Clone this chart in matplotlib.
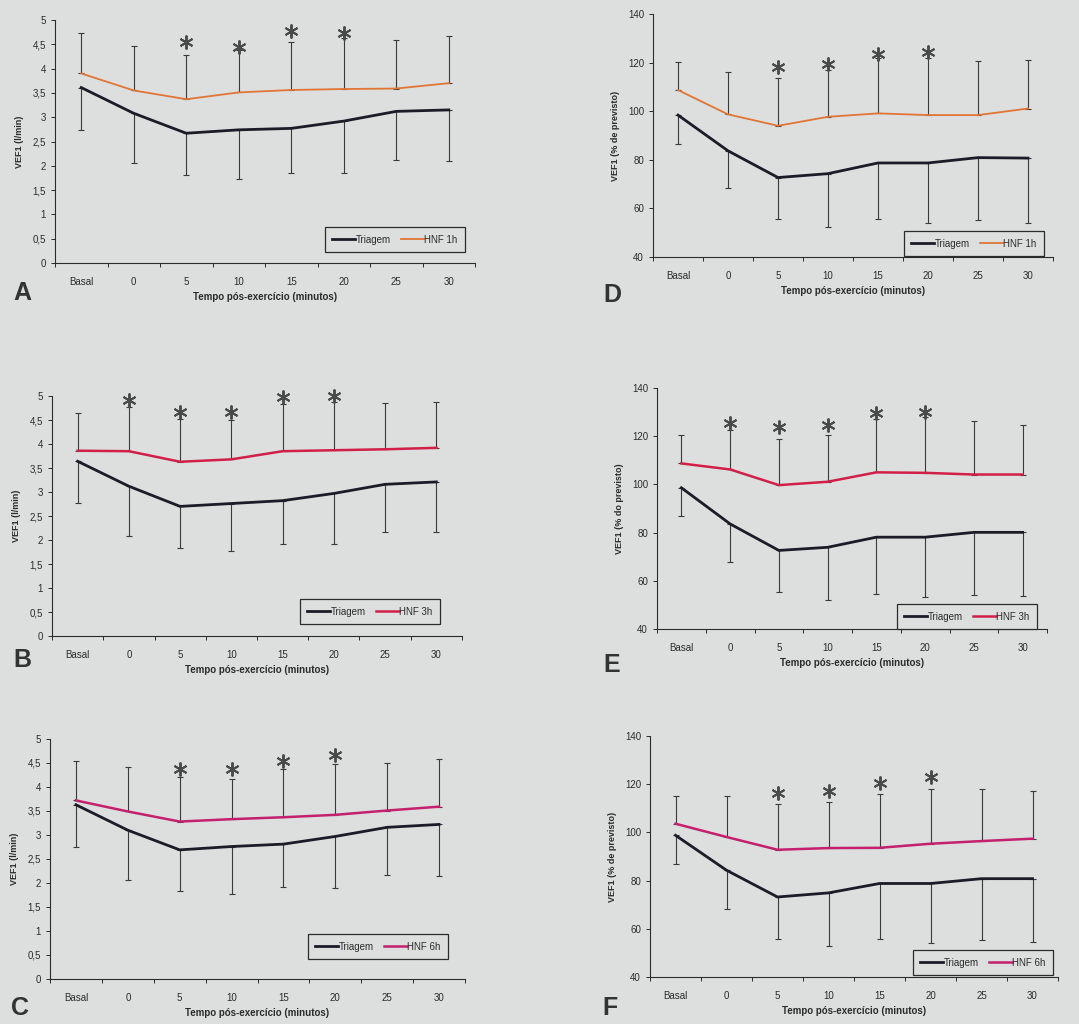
"""
VEF1 pós-exercício — Triagem vs HNF (painéis A-F)
Saves out.png
"""

import matplotlib
matplotlib.use("Agg")
import matplotlib.pyplot as plt
from matplotlib.ticker import FixedLocator, FuncFormatter


# =======================
# DATA
# =======================
categories = ["Basal", "0", "5", "10", "15", "20", "25", "30"]

# l/min panels (A, B, C)
a_triagem = [3.61, 3.08, 2.67, 2.74, 2.77, 2.92, 3.12, 3.15]
a_triagem_low = [2.74, 2.05, 1.82, 1.73, 1.86, 1.86, 2.12, 2.09]
a_hnf = [3.90, 3.55, 3.37, 3.51, 3.56, 3.58, 3.59, 3.70]
a_hnf_high = [4.73, 4.47, 4.29, 4.38, 4.54, 4.62, 4.59, 4.68]
a_stars = [2, 3, 4, 5]
a_star_y = [4.55, 4.45, 4.78, 4.74]

b_triagem = [3.64, 3.12, 2.70, 2.76, 2.82, 2.97, 3.16, 3.21]
b_triagem_low = [2.77, 2.08, 1.84, 1.78, 1.91, 1.91, 2.17, 2.16]
b_hnf = [3.86, 3.85, 3.63, 3.68, 3.85, 3.87, 3.89, 3.92]
b_hnf_high = [4.65, 4.77, 4.53, 4.51, 4.83, 4.88, 4.86, 4.88]
b_stars = [1, 2, 3, 4, 5]
b_star_y = [4.91, 4.67, 4.67, 4.97, 4.99]

c_triagem = [3.63, 3.10, 2.69, 2.76, 2.81, 2.97, 3.16, 3.22]
c_triagem_low = [2.74, 2.06, 1.84, 1.77, 1.91, 1.90, 2.17, 2.15]
c_hnf = [3.72, 3.49, 3.28, 3.33, 3.37, 3.42, 3.51, 3.59]
c_hnf_high = [4.55, 4.41, 4.20, 4.16, 4.37, 4.47, 4.51, 4.58]
c_stars = [2, 3, 4, 5]
c_star_y = [4.38, 4.37, 4.54, 4.67]

# % do previsto panels (D, E, F)
d_triagem = [98.4, 83.7, 72.7, 74.3, 78.7, 78.7, 80.9, 80.7]
d_triagem_low = [86.7, 68.2, 55.8, 52.4, 55.7, 54.0, 55.4, 54.1]
d_hnf = [108.7, 98.7, 94.0, 97.7, 99.1, 98.4, 98.4, 101.1]
d_hnf_high = [120.4, 116.2, 113.8, 116.9, 121.7, 121.7, 120.6, 120.9]
d_stars = [2, 3, 4, 5]
d_star_y = [118.3, 119.3, 123.4, 124.2]

e_triagem = [98.6, 83.6, 72.6, 73.9, 78.1, 78.1, 80.1, 80.1]
e_triagem_low = [86.9, 68.0, 55.2, 51.9, 54.6, 53.2, 54.2, 53.5]
e_hnf = [108.7, 106.2, 99.7, 101.1, 105.0, 104.8, 104.1, 104.1]
e_hnf_high = [120.4, 122.5, 119.0, 120.4, 127.3, 128.0, 126.2, 124.6]
e_stars = [1, 2, 3, 4, 5]
e_star_y = [125.5, 123.8, 124.5, 129.8, 130.0]

f_triagem = [98.8, 84.3, 73.2, 74.9, 78.8, 78.8, 80.8, 80.8]
f_triagem_low = [87.0, 68.4, 55.9, 52.8, 55.6, 54.2, 55.5, 54.5]
f_hnf = [103.6, 98.1, 92.8, 93.5, 93.6, 95.3, 96.4, 97.4]
f_hnf_high = [115.1, 115.1, 111.9, 112.6, 115.8, 118.1, 118.1, 117.0]
f_stars = [2, 3, 4, 5]
f_star_y = [116.5, 117.0, 120.5, 123.0]


# =======================
# CONFIG
# =======================
W, H = 1079, 1024
BG = "#dcdfde"
INK = "#2b2b2b"
TRIAGEM_COLOR = "#1c1c28"
ERR_COLOR = "#3a3a3a"
STAR_COLOR = "#4a4a4a"

plt.rcParams["font.family"] = ["Liberation Sans", "DejaVu Sans"]


# =======================
# HELPERS
# =======================
def fig_rect(left, top, right, bottom):
    # pixel box -> figure fraction
    return [left / W, 1 - bottom / H, (right - left) / W, (bottom - top) / H]


def fmt_lmin(v, _pos):
    return f"{v:g}".replace(".", ",")


def fmt_pct(v, _pos):
    return f"{v:.0f}"


def draw_panel(fig, box, legend_corner, letter, ylabel, hnf_label, hnf_color,
               triagem, triagem_low, hnf, hnf_high, stars, star_y,
               ylim, yticks, ytick_fmt, hnf_lw):
    ax = fig.add_axes(fig_rect(*box))
    ax.set_facecolor("none")
    x = list(range(len(categories)))

    ax.errorbar(x, hnf, yerr=[[0] * len(x), [h - v for h, v in zip(hnf_high, hnf)]],
                fmt="none", ecolor=ERR_COLOR, elinewidth=0.8, capsize=2.2, capthick=0.8)
    ax.errorbar(x, triagem, yerr=[[v - l for v, l in zip(triagem, triagem_low)], [0] * len(x)],
                fmt="none", ecolor=ERR_COLOR, elinewidth=0.8, capsize=2.2, capthick=0.8)
    ax.plot(x, triagem, color=TRIAGEM_COLOR, lw=2.0, label="Triagem", zorder=3)
    ax.plot(x, hnf, color=hnf_color, lw=hnf_lw, label=hnf_label, zorder=3)

    # significance asterisks
    ax.plot(stars, star_y, linestyle="none", marker=(6, 2, 0), markersize=10,
            markeredgewidth=1.4, color=STAR_COLOR, zorder=4, clip_on=False)

    ax.set_xlim(-0.5, len(categories) - 0.5)
    ax.set_ylim(*ylim)
    ax.set_xticks(x)
    ax.set_xticklabels(categories)
    ax.xaxis.set_minor_locator(FixedLocator([i + 0.5 for i in range(-1, len(categories))]))
    ax.tick_params(axis="x", which="major", length=0, pad=10, labelsize=7, labelcolor=INK)
    ax.tick_params(axis="x", which="minor", length=3, width=0.7, color=INK)
    ax.set_yticks(yticks)
    ax.yaxis.set_major_formatter(FuncFormatter(ytick_fmt))
    ax.tick_params(axis="y", length=3, width=0.7, labelsize=7, labelcolor=INK, color=INK)
    for s in ["top", "right"]:
        ax.spines[s].set_visible(False)
    for s in ["left", "bottom"]:
        ax.spines[s].set_color(INK)
        ax.spines[s].set_linewidth(0.8)

    ax.set_xlabel("Tempo pós-exercício (minutos)", fontsize=7, fontweight="bold",
                  color=INK, labelpad=4)
    ax.set_ylabel(ylabel, fontsize=6.5, fontweight="bold", color=INK, labelpad=6)

    leg = ax.legend(loc="lower right", bbox_to_anchor=(legend_corner[0] / W, 1 - legend_corner[1] / H),
                    bbox_transform=fig.transFigure, ncol=2, fontsize=7,
                    frameon=True, fancybox=False, handlelength=2.4,
                    handletextpad=0.05, columnspacing=1.0, borderpad=0.75,
                    borderaxespad=0)
    leg.get_frame().set_edgecolor(INK)
    leg.get_frame().set_linewidth(0.9)
    leg.get_frame().set_facecolor(BG)
    leg.get_frame().set_alpha(1)
    for t_ in leg.get_texts():
        t_.set_color(INK)

    fig.text(letter[0] / W, 1 - letter[1] / H, letter[2],
             fontsize=18, fontweight="bold", color="#333333", ha="center", va="center")
    return ax


# =======================
# MAIN
# =======================
def main() -> None:
    fig = plt.figure(figsize=(W / 100, H / 100), dpi=100, facecolor=BG)

    lmin_ticks = [i * 0.5 for i in range(11)]
    pct_ticks = [40, 60, 80, 100, 120, 140]

    draw_panel(fig, (55, 20, 475, 263), (465, 252), (22, 293, "A"),
               "VEF1 (l/min)", "HNF 1h", "#e07535",
               a_triagem, a_triagem_low, a_hnf, a_hnf_high, a_stars, a_star_y,
               (0, 5), lmin_ticks, fmt_lmin, 1.3)
    draw_panel(fig, (52, 396, 462, 636), (440, 624), (22, 660, "B"),
               "VEF1 (l/min)", "HNF 3h", "#d21f48",
               b_triagem, b_triagem_low, b_hnf, b_hnf_high, b_stars, b_star_y,
               (0, 5), lmin_ticks, fmt_lmin, 1.8)
    draw_panel(fig, (50, 739, 465, 979), (448, 959), (20, 1008, "C"),
               "VEF1 (l/min)", "HNF 6h", "#c4206e",
               c_triagem, c_triagem_low, c_hnf, c_hnf_high, c_stars, c_star_y,
               (0, 5), lmin_ticks, fmt_lmin, 1.8)
    draw_panel(fig, (653, 14, 1053, 257), (1044, 256), (612, 295, "D"),
               "VEF1 (% de previsto)", "HNF 1h", "#e07535",
               d_triagem, d_triagem_low, d_hnf, d_hnf_high, d_stars, d_star_y,
               (40, 140), pct_ticks, fmt_pct, 1.3)
    draw_panel(fig, (657, 388, 1047, 629), (1037, 629), (612, 665, "E"),
               "VEF1 (% do previsto)", "HNF 3h", "#d21f48",
               e_triagem, e_triagem_low, e_hnf, e_hnf_high, e_stars, e_star_y,
               (40, 140), pct_ticks, fmt_pct, 1.8)
    draw_panel(fig, (650, 736, 1058, 977), (1053, 975), (610, 1008, "F"),
               "VEF1 (% de previsto)", "HNF 6h", "#c4206e",
               f_triagem, f_triagem_low, f_hnf, f_hnf_high, f_stars, f_star_y,
               (40, 140), pct_ticks, fmt_pct, 1.8)

    fig.savefig("out.png", dpi=100, facecolor=BG)


if __name__ == "__main__":
    main()
